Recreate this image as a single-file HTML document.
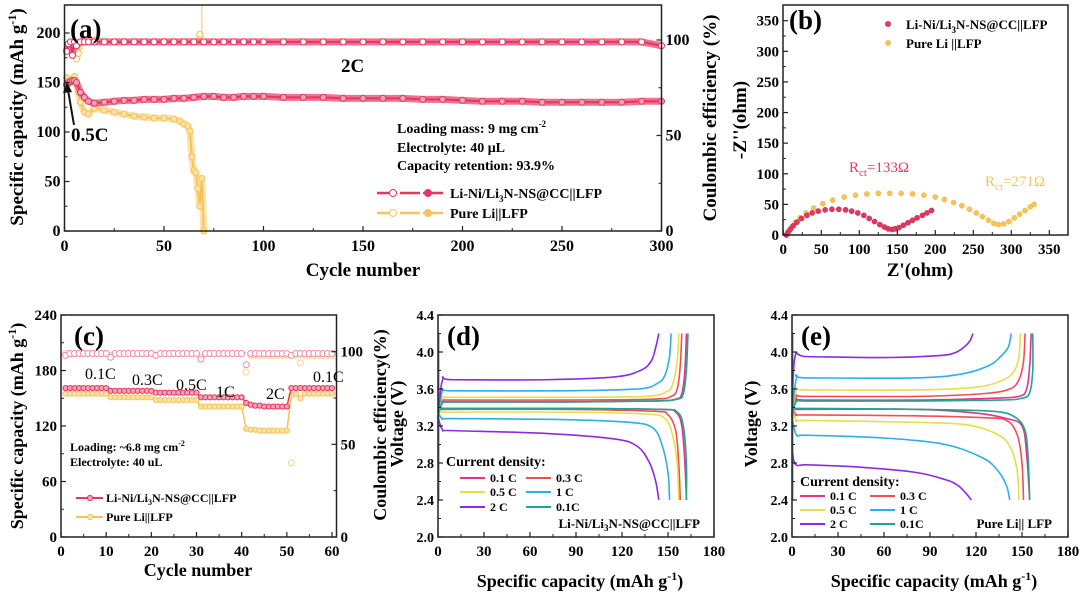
<!DOCTYPE html>
<html><head><meta charset="utf-8">
<style>
html,body{margin:0;padding:0;background:#fff;}
svg{display:block;font-family:"Liberation Serif",serif;font-weight:bold;}
</style></head>
<body>
<svg id="fig" width="1080" height="592" viewBox="0 0 1080 592" xmlns="http://www.w3.org/2000/svg"></svg>
<script>
// ===== Panel (a) data =====
const aCycles   = [1,2,3,4,5,6,8,10,12,15,20,25,30,35,40,45,50,55,60,65,70,75,80,85,90,95,100,110,120,130,140,150,160,170,180,190,200,210,220,230,240,250,260,270,280,290,300];
const aRedCap   = [148,150,151,152,152,150,140,135,131,129,130,131,132,132,133,133,133,134,134,135,136,136,135,135,136,136,136,135,135,135,134,134,134,134,133,133,132,131,131,131,130,130,130,130,130,131,131];
const aRedCE    = [94,98,99,92,99,97,99,99,99,99,99,99,99,99,99,99,99,99,99,99,99,99,99,99,99,99,99,99,99,99,99,99,99,99,99,99,99,99,99,99,99,99,99,99,99,99,97];
const aYelCycles= [1,2,3,4,5,6,7,8,10,12,15,20,25,30,35,40,45,50,55,58,60,62,63,64,65,66,67,68,69,70];
const aYelCap   = [155,152,150,153,156,150,140,130,120,118,124,122,120,118,116,115,114,114,113,111,108,106,101,75,61,59,43,25,53,0];
const aYelCE    = [95,97,96,98,99,90,93,99,100,100,100,99,99,99,99,99,99,99,99,99,99,99,99,99,99,99,99,103,99,99];
// ===== Panel (b) data =====
const bRedX = [4,6,9,13,18,24,31,38,46,55,64,73,82,90,98,106,113,120,127,133,138,143,147,152,158,164,170,176,183,189,195];
const bRedY = [0,4,9,15,21,27,32,36,39,41,42,42,41,39,36,32,27,22,17,13,10,9,10,12,16,20,24,28,32,36,40];
const bYelX = [4,7,11,16,22,30,40,52,65,80,95,110,125,140,155,170,185,200,212,224,235,245,254,262,270,277,283,290,297,304,311,318,325,330];
const bYelY = [0,6,13,21,28,36,44,51,57,62,65,67,68,68,68,67,65,62,58,53,48,42,36,30,24,19,17,18,22,28,34,40,46,50];
// ===== Panel (c) data =====
const cCycles = [1,2,3,4,5,6,7,8,9,10,11,12,13,14,15,16,17,18,19,20,21,22,23,24,25,26,27,28,29,30,31,32,33,34,35,36,37,38,39,40,41,42,43,44,45,46,47,48,49,50,51,52,53,54,55,56,57,58,59,60];
const cRedCap = [161,161,161,161,161,161,161,161,161,161,158,158,158,158,158,158,158,158,158,158,156,156,156,156,156,156,156,156,156,156,151,151,151,151,151,151,151,151,151,151,145,143,142,142,141,141,141,141,141,141,161,161,161,161,161,161,161,161,161,161];
const cYelCap = [155,155,155,155,155,155,155,155,155,155,151,151,151,151,151,151,151,151,151,151,148,148,148,148,148,148,148,148,148,148,141,141,141,141,141,141,141,141,141,141,117,116,116,115,115,115,115,115,115,115,153,155,150,155,155,155,155,155,155,155];
const cRedCE  = [98,99,99,99,99,99,99,99,99,99,97,99,99,99,99,99,99,99,99,99,98,99,99,99,99,99,99,99,99,99,96,99,99,99,99,99,99,99,99,99,93,99,99,99,99,99,99,99,99,99,98,99,99,99,99,99,99,99,99,99];
const cYelCE  = [99,99,99,99,99,99,99,99,99,99,98,99,99,99,99,99,99,99,99,99,98,99,99,99,99,99,99,99,99,99,97,99,99,99,99,99,99,99,99,99,89,98,98,98,98,98,98,98,98,98,40,98,94,98,98,98,98,98,98,98];
// ===== Panel (d) data =====
const dRates = ["0.1 C","0.3 C","0.5 C","1 C","2 C","0.1C"];
const dChgQ = [[0,3,10,80,140,155,159,161,162],[0,3,10,80,140,152,156,158,159],[0,3,10,80,135,149,153,156,157],[0,3,10,80,130,143,148,151,152],[0,3,10,70,115,132,139,142,144],[0,3,10,80,140,156,160,162,163]];
const dChgV = [[3.3,3.45,3.46,3.46,3.47,3.49,3.55,3.8,4.2],[3.3,3.47,3.48,3.48,3.49,3.52,3.6,3.85,4.2],[3.3,3.5,3.51,3.51,3.52,3.57,3.65,3.9,4.2],[3.3,3.58,3.58,3.58,3.6,3.66,3.75,3.95,4.2],[3.3,3.7,3.7,3.7,3.73,3.8,3.9,4.05,4.2],[3.3,3.45,3.46,3.46,3.47,3.49,3.55,3.8,4.2]];
const dDisQ = [[0,3,10,80,145,155,159,161,162],[0,3,10,80,140,150,155,157,158],[0,3,10,80,135,148,153,156,157],[0,3,10,80,125,140,146,150,151],[0,3,10,70,115,130,138,142,144],[0,3,10,80,145,156,160,162,162]];
const dDisV = [[3.4,3.39,3.39,3.39,3.38,3.35,3.2,2.8,2.4],[3.4,3.38,3.38,3.38,3.36,3.32,3.15,2.8,2.4],[3.4,3.35,3.35,3.35,3.33,3.28,3.1,2.8,2.4],[3.35,3.28,3.28,3.27,3.24,3.18,3.0,2.7,2.4],[3.3,3.16,3.15,3.12,3.06,2.98,2.8,2.6,2.4],[3.4,3.39,3.39,3.39,3.38,3.35,3.2,2.8,2.4]];
// ===== Panel (e) data =====
const eChgQ = [[0,3,10,80,130,148,153,155,156],[0,3,10,80,125,142,148,151,152],[0,3,10,80,120,138,145,148,149],[0,3,10,80,110,128,136,141,143],[0,2,10,60,95,106,112,116,118],[0,3,10,80,135,150,155,157,157]];
const eChgV = [[3.3,3.48,3.48,3.48,3.5,3.52,3.6,3.85,4.2],[3.3,3.52,3.52,3.52,3.55,3.6,3.7,3.9,4.2],[3.3,3.59,3.59,3.59,3.62,3.7,3.8,3.95,4.2],[3.3,3.72,3.72,3.72,3.76,3.85,3.95,4.05,4.2],[3.3,3.95,3.95,3.94,3.96,3.99,4.05,4.12,4.2],[3.3,3.47,3.47,3.47,3.48,3.5,3.56,3.8,4.2]];
const eDisQ = [[0,3,10,80,120,140,150,153,155],[0,3,10,80,125,140,147,150,151],[0,3,10,80,115,135,143,147,148],[0,3,10,60,100,125,135,140,142],[0,2,10,40,80,100,108,113,117],[0,3,10,80,130,145,152,154,155]];
const eDisV = [[3.4,3.38,3.38,3.38,3.34,3.28,3.2,2.9,2.4],[3.4,3.32,3.32,3.31,3.29,3.26,3.1,2.8,2.4],[3.4,3.26,3.26,3.24,3.21,3.1,2.95,2.7,2.4],[3.3,3.1,3.1,3.07,3.0,2.85,2.7,2.55,2.4],[3.0,2.79,2.78,2.76,2.7,2.62,2.56,2.48,2.4],[3.4,3.39,3.39,3.38,3.36,3.3,3.15,2.85,2.4]];
const rateColors = ["#e8308c","#ef4f55","#e6de4a","#2eaee8","#8a2be2","#1fa68c"];
const RED="#e2385f", REDL="#f2a3b8", YEL="#f5c35a", YELL="#fbe2a8";

const NS="http://www.w3.org/2000/svg";
const svg=document.getElementById('fig');
function el(tag,attrs,parent,text){const e=document.createElementNS(NS,tag);for(const k in attrs)e.setAttribute(k,attrs[k]);if(text!==undefined)e.textContent=text;(parent||svg).appendChild(e);return e;}
function lin(d0,d1,p0,p1){return v=>p0+(v-d0)*(p1-p0)/(d1-d0);}
function smooth(pts){let d="M"+pts[0][0]+","+pts[0][1];for(let i=0;i<pts.length-1;i++){const p0=pts[i-1]||pts[i],p1=pts[i],p2=pts[i+1],p3=pts[i+2]||p2;const c1x=p1[0]+(p2[0]-p0[0])/6,c1y=p1[1]+(p2[1]-p0[1])/6,c2x=p2[0]-(p3[0]-p1[0])/6,c2y=p2[1]-(p3[1]-p1[1])/6;d+=" C"+c1x+","+c1y+" "+c2x+","+c2y+" "+p2[0]+","+p2[1];}return d;}
function frame(g,x0,y0,x1,y1){const r=el('rect',{x:x0,y:y0,width:x1-x0,height:y1-y0,fill:'none',stroke:'#222','stroke-width':1.5},g);}
function xTicks(g,sx,vals,y,labelY,minor,fs){vals.forEach(v=>{el('line',{x1:sx(v),x2:sx(v),y1:y,y2:y-5,stroke:'#222','stroke-width':1.2},g);const t=el('text',{x:sx(v),y:labelY,'text-anchor':'middle','font-size':fs||15},g,String(v));});(minor||[]).forEach(v=>el('line',{x1:sx(v),x2:sx(v),y1:y,y2:y-3,stroke:'#222','stroke-width':1},g));}
function yTicks(g,sy,vals,x,labels,side,minor,fs){vals.forEach((v,i)=>{const dir=side==='r'?-1:1;el('line',{x1:x,x2:x+5*dir,y1:sy(v),y2:sy(v),stroke:'#222','stroke-width':1.2},g);const t=el('text',{x:side==='r'?x+4:x-4,y:sy(v)+5,'text-anchor':side==='r'?'start':'end','font-size':fs||15},g,labels?labels[i]:String(v));});(minor||[]).forEach(v=>{const dir=side==='r'?-1:1;el('line',{x1:x,x2:x+3*dir,y1:sy(v),y2:sy(v),stroke:'#222','stroke-width':1},g);});}
function vtitle(g,x,y,txt,fs,name){const t=el('text',{x:x,y:y,'text-anchor':'middle','font-size':fs,transform:`rotate(-90 ${x} ${y})`},g);t.innerHTML=txt;return t;}
function txt(g,x,y,s,fs,name,opts){const t=el('text',Object.assign({x:x,y:y,'font-size':fs},opts||{}),g);t.innerHTML=s;return t;}
function series(g,xs,ys,sx,sy,stroke,fill,r,name,lw,band){const pts=xs.map((x,i)=>[sx(x),sy(ys[i])]);const ptsS=pts.map(p=>p.join(',')).join(' ');if(band){const b=el('polyline',{points:ptsS,fill:'none',stroke:band,'stroke-width':7,'stroke-linejoin':'round'},g);}const pl=el('polyline',{points:ptsS,fill:'none',stroke:stroke,'stroke-width':lw||1.5},g);pts.forEach((p,i)=>{const c=el('circle',{cx:p[0],cy:p[1],r:r,fill:fill,stroke:stroke==='none'?'#999':stroke,'stroke-width':1},g);});}

// ===== Panel A =====
(function(){
const g=el('g',{});
const X0=64.5,X1=661.5,Y0=5,Y1=231;
const sx=lin(0,300,X0,X1), sy=lin(0,200,Y1,33), sy2=lin(0,100,Y1,40);
series(g,aYelCycles,aYelCE,sx,sy2,YEL,'#fff',3,'a-yellow-ce',1.5,YELL);
series(g,aCycles,aRedCE,sx,sy2,RED,'#fff',3,'a-red-ce',2,'#f07090');
series(g,aYelCycles,aYelCap,sx,sy,YEL,YELL,3,'a-yellow-capacity',2,YELL);
series(g,aCycles,aRedCap,sx,sy,RED,REDL,3,'a-red-capacity',2,'#f07090');
const sp=el('line',{x1:sx(69),x2:sx(69),y1:sy2(103),y2:Y0,stroke:YEL,'stroke-width':1},g);
frame(g,X0,Y0,X1,Y1);
xTicks(g,sx,[0,50,100,150,200,250,300],Y1,251,[25,75,125,175,225,275],16);
yTicks(g,sy,[0,50,100,150,200],X0,null,'l',[25,75,125,175],16);
yTicks(g,sy2,[0,50,100],X1,null,'r',[25,75],16);
vtitle(g,23,117,'Specific capacity (mAh g<tspan dy="-7" font-size="12">-1</tspan><tspan dy="7">)</tspan>',19,'a-y-axis-title');
vtitle(g,716,118,'Coulombic efficiency (%)',19,'a-right-axis-title');
txt(g,363,276,'Cycle number',19,'a-x-axis-title',{'text-anchor':'middle'});
txt(g,70,38,'(a)',27,'a-panel-label');
txt(g,341,72,'2C',19,'a-rate-label');
txt(g,71,141,'0.5C',19,'a-rate-label-05c');
const ar=el('line',{x1:74,x2:68,y1:125,y2:90,stroke:'#111','stroke-width':2},g);
el('polygon',{points:'67,82 63,93 72,92',fill:'#111'},g);
txt(g,397,133,'Loading mass:  9 mg cm<tspan dy="-6" font-size="9">-2</tspan>',14,'a-note-loading');
txt(g,397,152,'Electrolyte:  40 μL',14,'a-note-electrolyte');
txt(g,397,170,'Capacity retention:  93.9%',14,'a-note-retention');
[[RED,REDL,193,'Li-Ni/Li<tspan dy="4" font-size="9">3</tspan><tspan dy="-4">N-NS@CC||LFP</tspan>'],[YEL,YELL,213,'Pure Li||LFP']].forEach((L,i)=>{
 const lg=el('g',{},g);
 el('line',{x1:377,x2:443,y1:L[2],y2:L[2],stroke:L[0],'stroke-width':2.5,'stroke-dasharray':'20 3'},lg);
 el('circle',{cx:393,cy:L[2],r:3.5,fill:'#fff',stroke:L[0]},lg);
 el('circle',{cx:428,cy:L[2],r:3.5,fill:L[0],stroke:L[0]},lg);
 txt(lg,450,L[2]+5,L[3],14,'a-legend-text');
});
})();

// ===== Panel B =====
(function(){
const g=el('g',{});
const X0=783,X1=1068,Y0=5,Y1=235;
const sx=lin(0,350,783.3,1049.3), sy=lin(0,350,235,20.7);
bYelX.forEach((x,i)=>{const c=el('circle',{cx:sx(x),cy:sy(bYelY[i]),r:2.6,fill:YEL,stroke:'#f0b040','stroke-width':0.5},g);});
bRedX.forEach((x,i)=>{const c=el('circle',{cx:sx(x),cy:sy(bRedY[i]),r:2.6,fill:RED,stroke:'#c02050','stroke-width':0.5},g);});
frame(g,X0,Y0,X1,Y1);
xTicks(g,sx,[0,50,100,150,200,250,300,350],Y1,254,[25,75,125,175,225,275,325],15);
yTicks(g,sy,[0,50,100,150,200,250,300,350],X0,null,'l',[25,75,125,175,225,275,325],15);
vtitle(g,746,120,"-Z''(ohm)",19,'b-y-axis-title');
txt(g,920,276,"Z'(ohm)",19,'b-x-axis-title',{'text-anchor':'middle'});
txt(g,789,29,'(b)',27,'b-panel-label');
txt(g,849,172,'R<tspan dy="4" font-size="11">ct</tspan><tspan dy="-4">=133Ω</tspan>',15,'b-annot-red',{fill:RED,'font-weight':'normal'});
txt(g,985,186,'R<tspan dy="4" font-size="11">ct</tspan><tspan dy="-4">=271Ω</tspan>',15,'b-annot-yellow',{fill:YEL,'font-weight':'normal'});
[[RED,24,'Li-Ni/Li<tspan dy="4" font-size="9">3</tspan><tspan dy="-4">N-NS@CC||LFP</tspan>'],[YEL,43,'Pure Li ||LFP']].forEach(L=>{
 const lg=el('g',{},g);
 el('circle',{cx:888,cy:L[1],r:3,fill:L[0]},lg);
 txt(lg,906,L[1]+5,L[2],13,'b-legend-text');
});
})();

// ===== Panel C =====
(function(){
const g=el('g',{});
const X0=61,X1=336.5,Y0=315,Y1=537;
const sx=lin(0,60,61,332), sy=lin(0,240,537,315), sy2=lin(0,100,537,351.7);
const gy=el('g',{},g);
series(gy,cCycles,cYelCE,sx,sy2,'none','#fff',3,'c-yellow-ce',0);
gy.querySelectorAll('circle').forEach(c=>c.setAttribute('stroke','#f6d48a'));
const gr=el('g',{},g);
series(gr,cCycles,cRedCE,sx,sy2,'none','#fff',3,'c-red-ce',0);
gr.querySelectorAll('circle').forEach(c=>c.setAttribute('stroke','#ef8aa6'));
series(g,cCycles,cYelCap,sx,sy,YEL,YELL,2.6,'c-yellow-capacity',1.5);
series(g,cCycles,cRedCap,sx,sy,RED,REDL,2.6,'c-red-capacity',1.5);
frame(g,X0,Y0,X1,Y1);
xTicks(g,sx,[0,10,20,30,40,50,60],Y1,556,[5,15,25,35,45,55],15);
yTicks(g,sy,[0,60,120,180,240],X0,null,'l',[30,90,150,210],15);
yTicks(g,sy2,[0,50,100],X1,null,'r',[25,75],15);
vtitle(g,23,426,'Specific capacity (mAh g<tspan dy="-7" font-size="12">-1</tspan><tspan dy="7">)</tspan>',18,'c-y-axis-title');
vtitle(g,386,425,'Coulombic efficiency(%)',18,'c-right-axis-title');
txt(g,198,576,'Cycle number',18,'c-x-axis-title',{'text-anchor':'middle'});
txt(g,74,345,'(c)',27,'c-panel-label');
[['0.1C',85,379],['0.3C',132,385],['0.5C',176,390],['1C',216,397],['2C',266,399],['0.1C',313,382]].forEach(r=>txt(g,r[1],r[2],r[0],16,'c-rate-label',{'font-weight':'normal'}));
txt(g,70,451,'Loading: ~6.8 mg cm<tspan dy="-5" font-size="8">-2</tspan>',12,'c-note-loading');
txt(g,70,466,'Electrolyte: 40 uL',12,'c-note-electrolyte');
[[RED,REDL,498,'Li-Ni/Li<tspan dy="3" font-size="8">3</tspan><tspan dy="-3">N-NS@CC||LFP</tspan>'],[YEL,YELL,517,'Pure Li||LFP']].forEach(L=>{
 const lg=el('g',{},g);
 el('line',{x1:76,x2:103,y1:L[2],y2:L[2],stroke:L[0],'stroke-width':2},lg);
 el('circle',{cx:90,cy:L[2],r:2.6,fill:L[1],stroke:L[0]},lg);
 txt(lg,106,L[2]+4,L[3],12,'c-legend-text');
});
})();

// ===== Voltage panels =====
function vpanel(id,X0,X1,chgQ,chgV,disQ,disV,label,cellLabel,cellX,leg){
const g=el('g',{});
const Y0=315,Y1=537;
const sx=lin(0,180,X0,X1), sy=lin(2.0,4.4,Y1,Y0);
for(let k=0;k<6;k++){
 [[chgQ[k],chgV[k],'charge'],[disQ[k],disV[k],'discharge']].forEach(s=>{
  const pts=s[0].map((q,i)=>[sx(q),sy(s[1][i])]);
  const p=el('path',{d:smooth(pts),fill:'none',stroke:rateColors[k],'stroke-width':1.6},g);
  
  
 });
 el('line',{x1:sx(0)+1,x2:sx(0)+1,y1:sy(2.4),y2:sy(4.2),stroke:rateColors[k],'stroke-width':0.8,opacity:0.5},g);
}
frame(g,X0,Y0,X1,Y1);
xTicks(g,sx,[0,30,60,90,120,150,180],Y1,556,[15,45,75,105,135,165],15);
yTicks(g,sy,[2.0,2.4,2.8,3.2,3.6,4.0,4.4],X0,['2.0','2.4','2.8','3.2','3.6','4.0','4.4'],'l',[2.2,2.6,3.0,3.4,3.8,4.2],14);
vtitle(g,X0-35,424,'Voltage (V)',18,id+'-y-axis-title');
txt(g,(X0+X1)/2+4,587,'Specific capacity (mAh g<tspan dy="-7" font-size="12">-1</tspan><tspan dy="7">)</tspan>',18,id+'-x-axis-title',{'text-anchor':'middle'});
txt(g,X0+9,345,label,27,id+'-panel-label');
txt(g,leg.x,leg.y,'Current density:',14,id+'-legend-title');
for(let k=0;k<6;k++){
 const col=k%2,row=Math.floor(k/2);
 const lx=leg.cx[col],ly=leg.ry[row];
 const lg=el('g',{},g);
 el('line',{x1:lx,x2:lx+25,y1:ly,y2:ly,stroke:rateColors[k],'stroke-width':2},lg);
 txt(lg,lx+30,ly+4,dRates[k],12,id+'-legend-text');
}
txt(g,cellX,528,cellLabel,13,id+'-cell-label',{'text-anchor':'end'});
}
vpanel('d',438,714,dChgQ,dChgV,dDisQ,dDisV,'(d)','Li-Ni/Li<tspan dy="3" font-size="9">3</tspan><tspan dy="-3">N-NS@CC||LFP</tspan>',700,{x:446,y:466,ry:[478,492,507],cx:[460,526]});
vpanel('e',792,1068,eChgQ,eChgV,eDisQ,eDisV,'(e)','Pure Li|| LFP',1052,{x:800,y:486,cx:[800,870],ry:[496,510,524]});
</script>
</body></html>
